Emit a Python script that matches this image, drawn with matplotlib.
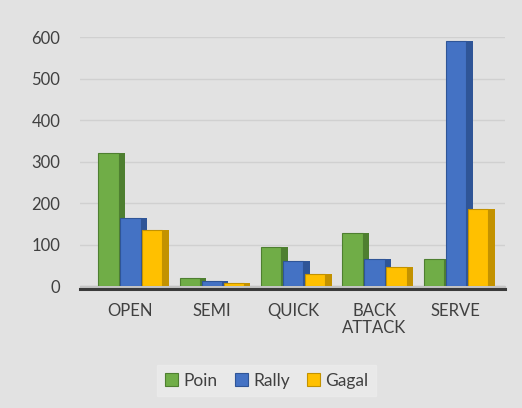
import matplotlib.pyplot as plt
import numpy as np

categories = ["OPEN", "SEMI", "QUICK", "BACK\nATTACK", "SERVE"]
poin = [320, 20, 95, 128, 65]
rally = [165, 12, 60, 65, 590]
gagal = [135, 8, 30, 45, 185]
series = ["Poin", "Rally", "Gagal"]

face = ["#70AD47", "#4472C4", "#FFC000"]
side = ["#4e7f30", "#2f5597", "#c39200"]

plt.rcParams['font.family'] = ['Lato', 'DejaVu Sans']

fig = plt.figure(figsize=(5.22, 4.08), dpi=100, facecolor="#e2e2e2")
ax = fig.add_axes([0.153, 0.299, 0.814, 0.61])
ax.set_facecolor("none")

x = np.arange(len(categories))
w = 0.27
dx = 0.07
for i, vals in enumerate([poin, rally, gagal]):
    pos = x + (i - 1) * w
    # darker side to fake the 3D look
    ax.bar(pos + dx, vals, w, color=side[i], zorder=2 + i)
    ax.bar(pos, vals, w - 0.02, color=face[i], edgecolor=side[i],
           linewidth=0.8, label=series[i], zorder=2 + i)

ax.set_ylim(0, 600)
ax.set_xlim(-0.62, 4.6)
ax.set_yticks(range(0, 601, 100))
ax.yaxis.grid(True, color="#d0d0d0", linewidth=1)
ax.set_axisbelow(True)
ax.axhspan(-8, 0, color="#c4c4c4", clip_on=False, zorder=1)
ax.axhline(-8, color="#3a3a3a", linewidth=2.2, clip_on=False, zorder=6)

ax.set_xticks(x)
ax.set_xticklabels(categories, fontsize=12, color="#404040", linespacing=1.1)
ax.tick_params(axis="y", labelsize=12, labelcolor="#404040", length=0, pad=14)
ax.tick_params(axis="x", length=0, pad=12)
for s in ax.spines.values():
    s.set_visible(False)

leg = ax.legend(loc="center", bbox_to_anchor=(0.44, -0.38), ncol=3, fontsize=12.5,
                frameon=True, fancybox=False, handlelength=0.75, handleheight=0.75,
                handletextpad=0.3, columnspacing=1.0, borderpad=0.45)
leg.get_frame().set_facecolor("#ececec")
leg.get_frame().set_edgecolor("#ececec")
for t in leg.get_texts():
    t.set_color("#404040")
for h, c in zip(leg.legend_handles, side):
    h.set_edgecolor(c)

fig.savefig("out.png", dpi=100, facecolor=fig.get_facecolor())
